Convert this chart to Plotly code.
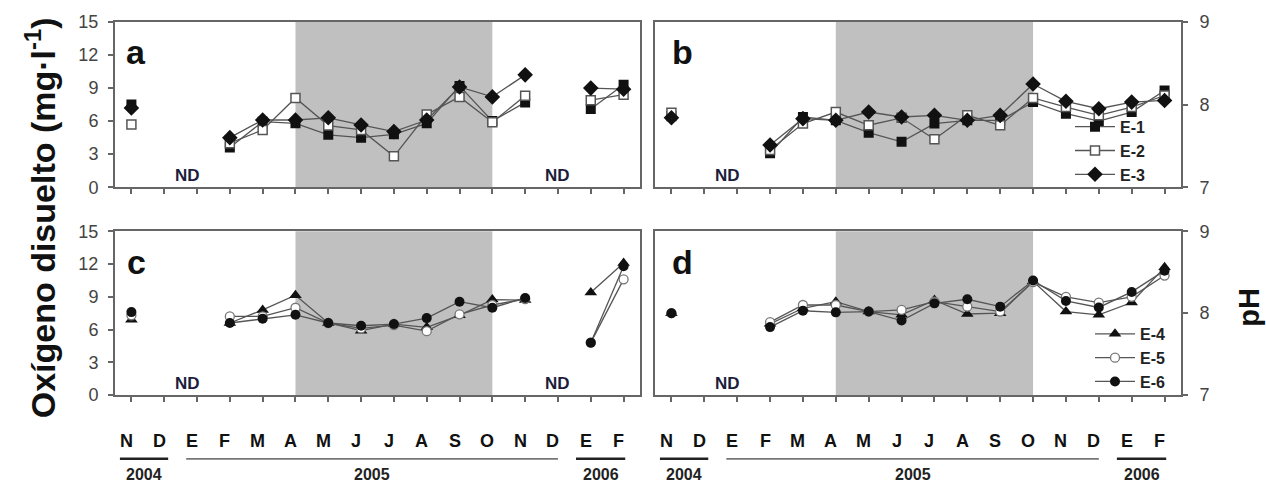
import plotly.graph_objects as go

# Sampling months, Nov 2004 - Feb 2006
months = ["N", "D", "E", "F", "M", "A", "M", "J", "J", "A", "S", "O", "N", "D", "E", "F"]
x_idx = list(range(len(months)))

# Dissolved oxygen (mg/l) - stations E-1, E-2, E-3
do_e1 = [7.5, None, None, 3.6, 5.95, 5.8, 4.76, 4.5, 4.8, 5.8, 9.2, 6.0, 7.7, None, 7.1, 9.3]
do_e2 = [5.7, None, None, 4.0, 5.2, 8.1, 5.6, 5.2, 2.8, 6.6, 8.2, 5.9, 8.3, None, 7.9, 8.4]
do_e3 = [7.2, None, None, 4.5, 6.1, 6.1, 6.3, 5.65, 5.05, 6.1, 9.1, 8.2, 10.2, None, 9.0, 8.9]

# pH - stations E-1, E-2, E-3
ph_e1 = [7.86, None, None, 7.41, 7.85, 7.81, 7.66, 7.55, 7.77, 7.81, 7.81, 8.03, 7.89, 7.80, 7.91, 8.17]
ph_e2 = [7.90, None, None, 7.45, 7.77, 7.91, 7.75, 7.84, 7.58, 7.87, 7.75, 8.08, 7.97, 7.87, 7.97, 8.11]
ph_e3 = [7.84, None, None, 7.51, 7.83, 7.81, 7.91, 7.85, 7.87, 7.81, 7.87, 8.25, 8.04, 7.95, 8.03, 8.05]

# Dissolved oxygen (mg/l) - stations E-4, E-5, E-6
do_e4 = [6.9, None, None, 6.6, 7.8, 9.15, 6.6, 5.9, 6.5, 6.2, 7.3, 8.75, 8.7, None, 9.4, 12.1]
do_e5 = [7.3, None, None, 7.2, 7.2, 8.0, 6.6, 6.1, 6.4, 5.85, 7.4, 8.25, 8.8, None, 4.8, 10.6]
do_e6 = [7.6, None, None, 6.6, 7.0, 7.35, 6.6, 6.35, 6.5, 7.05, 8.55, 8.0, 8.9, None, 4.8, 11.8]

# pH - stations E-4, E-5, E-6
ph_e4 = [8.0, None, None, 7.87, 8.06, 8.14, 8.02, 7.98, 8.16, 7.99, 8.00, 8.39, 8.02, 7.98, 8.13, 8.56]
ph_e5 = [8.0, None, None, 7.89, 8.10, 8.10, 8.02, 8.04, 8.14, 8.08, 8.02, 8.38, 8.20, 8.13, 8.20, 8.46]
ph_e6 = [8.0, None, None, 7.83, 8.03, 8.01, 8.02, 7.91, 8.12, 8.17, 8.08, 8.40, 8.15, 8.07, 8.26, 8.52]

years = ["2004", "2005", "2006"]
year_spans = [(-0.35, 1.12), (1.67, 13.0), (13.55, 15.05)]
dry_season = (5, 11)          # A .. O (shaded)
nd_pos_left = [1.72, 13.0]    # months without data, panels a/c
nd_pos_right = [1.7]          # panels b/d

FONT = "Liberation Sans, Arial, sans-serif"
LINE_C = "#555555"
AXIS_C = "#666666"

styles = {
    "E-1": dict(symbol="square", size=10, color="#111111", line=dict(width=0)),
    "E-2": dict(symbol="square", size=9, color="white", line=dict(width=1.5, color="#555555")),
    "E-3": dict(symbol="diamond", size=12, color="#111111", line=dict(width=0)),
    "E-4": dict(symbol="triangle-up", size=11, color="#111111", line=dict(width=0)),
    "E-5": dict(symbol="circle", size=9, color="white", line=dict(width=1.3, color="#777777")),
    "E-6": dict(symbol="circle", size=10, color="#111111", line=dict(width=0)),
}

fig = go.Figure()


def add_series(values, name, xa, ya, legend=None):
    fig.add_trace(go.Scatter(
        x=x_idx, y=values, mode="lines+markers", name=f"<b>{name}</b>",
        xaxis=xa, yaxis=ya, connectgaps=False,
        line=dict(color=LINE_C, width=1.3),
        marker=styles[name],
        showlegend=legend is not None,
        legend=legend if legend else "legend",
    ))


add_series(do_e1, "E-1", "x", "y")
add_series(do_e2, "E-2", "x", "y")
add_series(do_e3, "E-3", "x", "y")
add_series(ph_e1, "E-1", "x2", "y2", "legend")
add_series(ph_e2, "E-2", "x2", "y2", "legend")
add_series(ph_e3, "E-3", "x2", "y2", "legend")
add_series(do_e4, "E-4", "x3", "y3")
add_series(do_e5, "E-5", "x3", "y3")
add_series(do_e6, "E-6", "x3", "y3")
add_series(ph_e4, "E-4", "x4", "y4", "legend2")
add_series(ph_e5, "E-5", "x4", "y4", "legend2")
add_series(ph_e6, "E-6", "x4", "y4", "legend2")

W, H = 1266, 486
ML, MR, MT, MB = 115, 85, 15, 91
PW, PH = W - ML - MR, H - MT - MB

def px_x(p):
    return (p - ML) / PW

def px_y(p):
    return (H - MB - p) / PH

left_dom = [0, px_x(640)]
right_dom = [px_x(655), 1]
top_dom = [px_y(183.3), 1]
bot_dom = [0, px_y(228.3)]

tickfont = dict(family=FONT, size=18, color="#444444")

def xax(dom, anchor):
    return dict(domain=dom, anchor=anchor, range=[-0.5, 15.5], tickvals=x_idx,
                showticklabels=False, ticks="outside", ticklen=5, tickwidth=1.5,
                tickcolor=AXIS_C, showline=True, mirror=True, linecolor=AXIS_C,
                linewidth=2, showgrid=False, zeroline=False)

def yax_do(dom, anchor):
    return dict(domain=dom, anchor=anchor, range=[0, 15], dtick=3, tick0=0,
                ticks="outside", ticklen=5, tickwidth=1.5, tickcolor=AXIS_C,
                showline=True, mirror=True, linecolor=AXIS_C, linewidth=2,
                showgrid=False, zeroline=False, tickfont=tickfont,
                ticklabelstandoff=6)

def yax_ph(dom, anchor):
    return dict(domain=dom, anchor=anchor, side="right", range=[7, 9], dtick=1,
                ticks="outside", ticklen=5, tickwidth=1.5, tickcolor=AXIS_C,
                showline=True, mirror=True, linecolor=AXIS_C, linewidth=2,
                showgrid=False, zeroline=False, tickfont=tickfont,
                ticklabelstandoff=8)

def inner_ticks(over, anchor, side, rng, vals):
    return dict(overlaying=over, anchor=anchor, side=side, range=rng,
                tickvals=vals, ticks="inside", ticklen=5, tickwidth=1.5,
                tickcolor=AXIS_C, showticklabels=False, showline=False,
                showgrid=False, zeroline=False)

shapes = []
for xr, yr in [("x", "y"), ("x2", "y2"), ("x3", "y3"), ("x4", "y4")]:
    shapes.append(dict(type="rect", xref=xr, yref=f"{yr} domain",
                       x0=dry_season[0], x1=dry_season[1], y0=0, y1=1,
                       fillcolor="#c0c0c0", line=dict(width=0), layer="below"))

annotations = []


def note(text, x, y, xref="paper", yref="paper", size=18, color="#111111", **kw):
    annotations.append(dict(text=text, x=x, y=y, xref=xref, yref=yref, showarrow=False,
                            xanchor="center", yanchor="middle",
                            font=dict(family=FONT, size=size, color=color), **kw))


# panel letters
for lab, cx, cy in [("a", 136, 46), ("b", 682, 46), ("c", 136, 259), ("d", 682, 259)]:
    note(f"<b>{lab}</b>", px_x(cx), px_y(cy), size=34)

# ND marks
for xr, yr, pos in [("x", "y", nd_pos_left), ("x3", "y3", nd_pos_left),
                    ("x2", "y2", nd_pos_right), ("x4", "y4", nd_pos_right)]:
    for p in pos:
        note("<b>ND</b>", p, 0.073, xref=xr, yref=f"{yr} domain", size=17, color="#1c1c3c")

# month labels, year labels and underlines
for xr in ["x3", "x4"]:
    for i, m in zip(x_idx, months):
        note(f"<b>{m}</b>", i, px_y(441.5), xref=xr, xshift=-5, size=18)
    for yl, (a, b) in zip(years, year_spans):
        col = "#777777" if yl == "2005" else "#222222"
        wid = 1.8 if yl == "2005" else 2.5
        shapes.append(dict(type="line", xref=xr, yref="paper", x0=a, x1=b,
                           y0=px_y(460), y1=px_y(460), line=dict(color=col, width=wid)))
        note(f"<b>{yl}</b>", (a + b) / 2, px_y(476.5), xref=xr, size=16, color="#222222")

# axis titles
note("<b>Oxígeno disuelto (mg·l<sup>-1</sup>)</b>", px_x(40), px_y(215), size=34, textangle=-90)
note("<b>pH</b>", px_x(1249), px_y(306), size=29, textangle=-90)

legend_common = dict(bgcolor="rgba(0,0,0,0)", font=dict(family=FONT, size=16, color="#222222"),
                     tracegroupgap=0, itemwidth=40, xanchor="left", yanchor="bottom")

fig.update_layout(
    width=W, height=H, autosize=False,
    margin=dict(l=ML, r=MR, t=MT, b=MB, pad=0),
    paper_bgcolor="white", plot_bgcolor="white",
    font=dict(family=FONT),
    xaxis=xax(left_dom, "y"), yaxis=yax_do(top_dom, "x"),
    xaxis2=xax(right_dom, "y2"), yaxis2=yax_ph(top_dom, "x2"),
    xaxis3=xax(left_dom, "y3"), yaxis3=yax_do(bot_dom, "x3"),
    xaxis4=xax(right_dom, "y4"), yaxis4=yax_ph(bot_dom, "x4"),
    yaxis5=inner_ticks("y", "x", "right", [0, 15], [3, 6, 9, 12]),
    yaxis6=inner_ticks("y2", "x2", "left", [7, 9], [8]),
    yaxis7=inner_ticks("y3", "x3", "right", [0, 15], [3, 6, 9, 12]),
    yaxis8=inner_ticks("y4", "x4", "left", [7, 9], [8]),
    legend=dict(x=px_x(1070), y=px_y(188), **legend_common),
    legend2=dict(x=px_x(1090), y=px_y(399), **legend_common),
    shapes=shapes, annotations=annotations,
)

fig.write_html("out.html")
